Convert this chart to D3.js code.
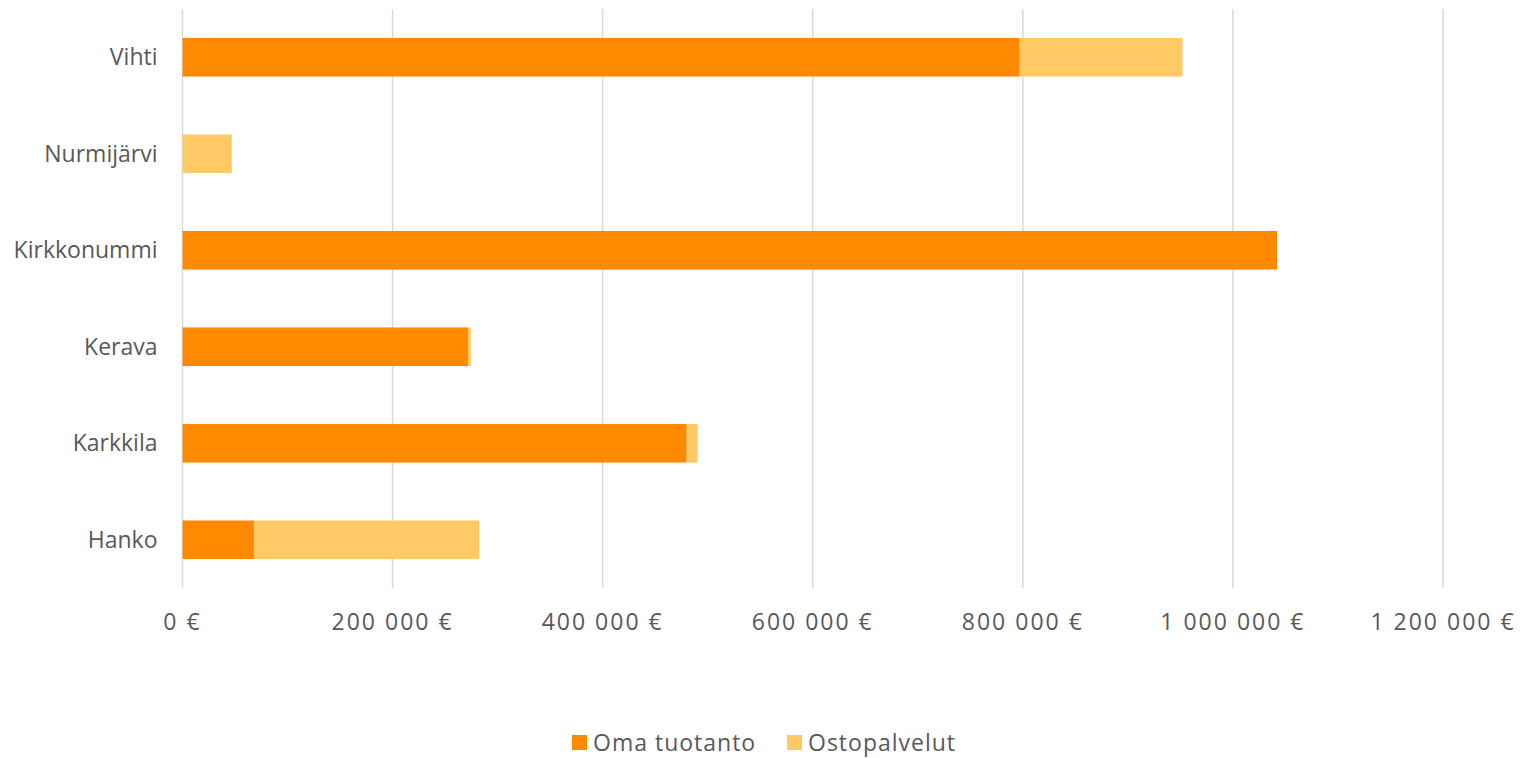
<!DOCTYPE html>
<html>
<head>
<meta charset="utf-8">
<script src="https://cdn.jsdelivr.net/npm/d3@7"></script>
<style>
  body { margin: 0; background: #fff; }
  text { font-family: "Open Sans", "DejaVu Sans", sans-serif; fill: #595959; }
</style>
</head>
<body>
<svg id="chart" width="1535" height="758"></svg>
<script>
// kunnat ylhäältä alas
const categories = ['Vihti', 'Nurmijärvi', 'Kirkkonummi', 'Kerava', 'Karkkila', 'Hanko'];
const seriesNames = ['Oma tuotanto', 'Ostopalvelut'];
const omaTuotanto = [797000, 0, 1042000, 272000, 480000, 68000];
const ostopalvelut = [155000, 47000, 0, 2500, 10500, 214500];
const xTicks = [0, 200000, 400000, 600000, 800000, 1000000, 1200000];
const colors = ['#FF8A00', '#FFCA66'];

const svg = d3.select('#chart');
const margin = { top: 9, left: 182.5, right: 1535 - 1443, bottom: 758 - 588 };
const width = 1535 - margin.left - margin.right;
const height = 758 - margin.top - margin.bottom;

const x = d3.scaleLinear().domain([0, 1200000]).range([0, width]);
const y = d3.scaleBand().domain(categories).range([0, height]).paddingInner(0.6).paddingOuter(0.3);

const fmt = v => d3.format(',')(v).replace(/,/g, ' ') + ' €';

const g = svg.append('g').attr('transform', `translate(${margin.left},${margin.top})`);

// pystyviivat
g.selectAll('line.grid')
  .data(xTicks)
  .enter()
  .append('line')
  .attr('class', 'grid')
  .attr('x1', d => x(d)).attr('x2', d => x(d))
  .attr('y1', 0).attr('y2', height)
  .attr('stroke', '#d9d9d9')
  .attr('stroke-width', 1.5);

const rows = categories.map((c, i) => ({ name: c, oma: omaTuotanto[i], osto: ostopalvelut[i] }));
const stacked = d3.stack().keys(['oma', 'osto'])(rows);

g.selectAll('g.series')
  .data(stacked)
  .enter()
  .append('g')
  .attr('class', 'series')
  .attr('fill', (d, i) => colors[i])
  .selectAll('rect')
  .data(d => d)
  .enter()
  .append('rect')
  .attr('x', d => x(d[0]))
  .attr('width', d => x(d[1]) - x(d[0]))
  .attr('y', d => y(d.data.name))
  .attr('height', y.bandwidth());

// x-akselin tekstit
g.selectAll('text.xtick')
  .data(xTicks)
  .enter()
  .append('text')
  .attr('class', 'xtick')
  .attr('x', d => x(d))
  .attr('y', height + 42)
  .attr('text-anchor', 'middle')
  .style('font-size', '23px')
  .style('letter-spacing', '2px')
  .text(fmt);

// kuntien nimet
g.selectAll('text.cat')
  .data(categories)
  .enter()
  .append('text')
  .attr('class', 'cat')
  .attr('x', -25)
  .attr('y', d => y(d) + y.bandwidth() / 2)
  .attr('dy', '0.35em')
  .attr('text-anchor', 'end')
  .style('font-size', '23px')
  .text(d => d);

// selite
const legend = svg.append('g').attr('transform', 'translate(572,735)');
const item = legend.selectAll('g')
  .data(seriesNames)
  .enter()
  .append('g')
  .attr('transform', (d, i) => `translate(${i * 215},0)`);
item.append('rect').attr('width', 15).attr('height', 15).attr('fill', (d, i) => colors[i]);
item.append('text')
  .attr('x', 21)
  .attr('y', 7.5)
  .attr('dy', '0.35em')
  .style('font-size', '23px')
  .style('letter-spacing', '1px')
  .text(d => d);
</script>
</body>
</html>
